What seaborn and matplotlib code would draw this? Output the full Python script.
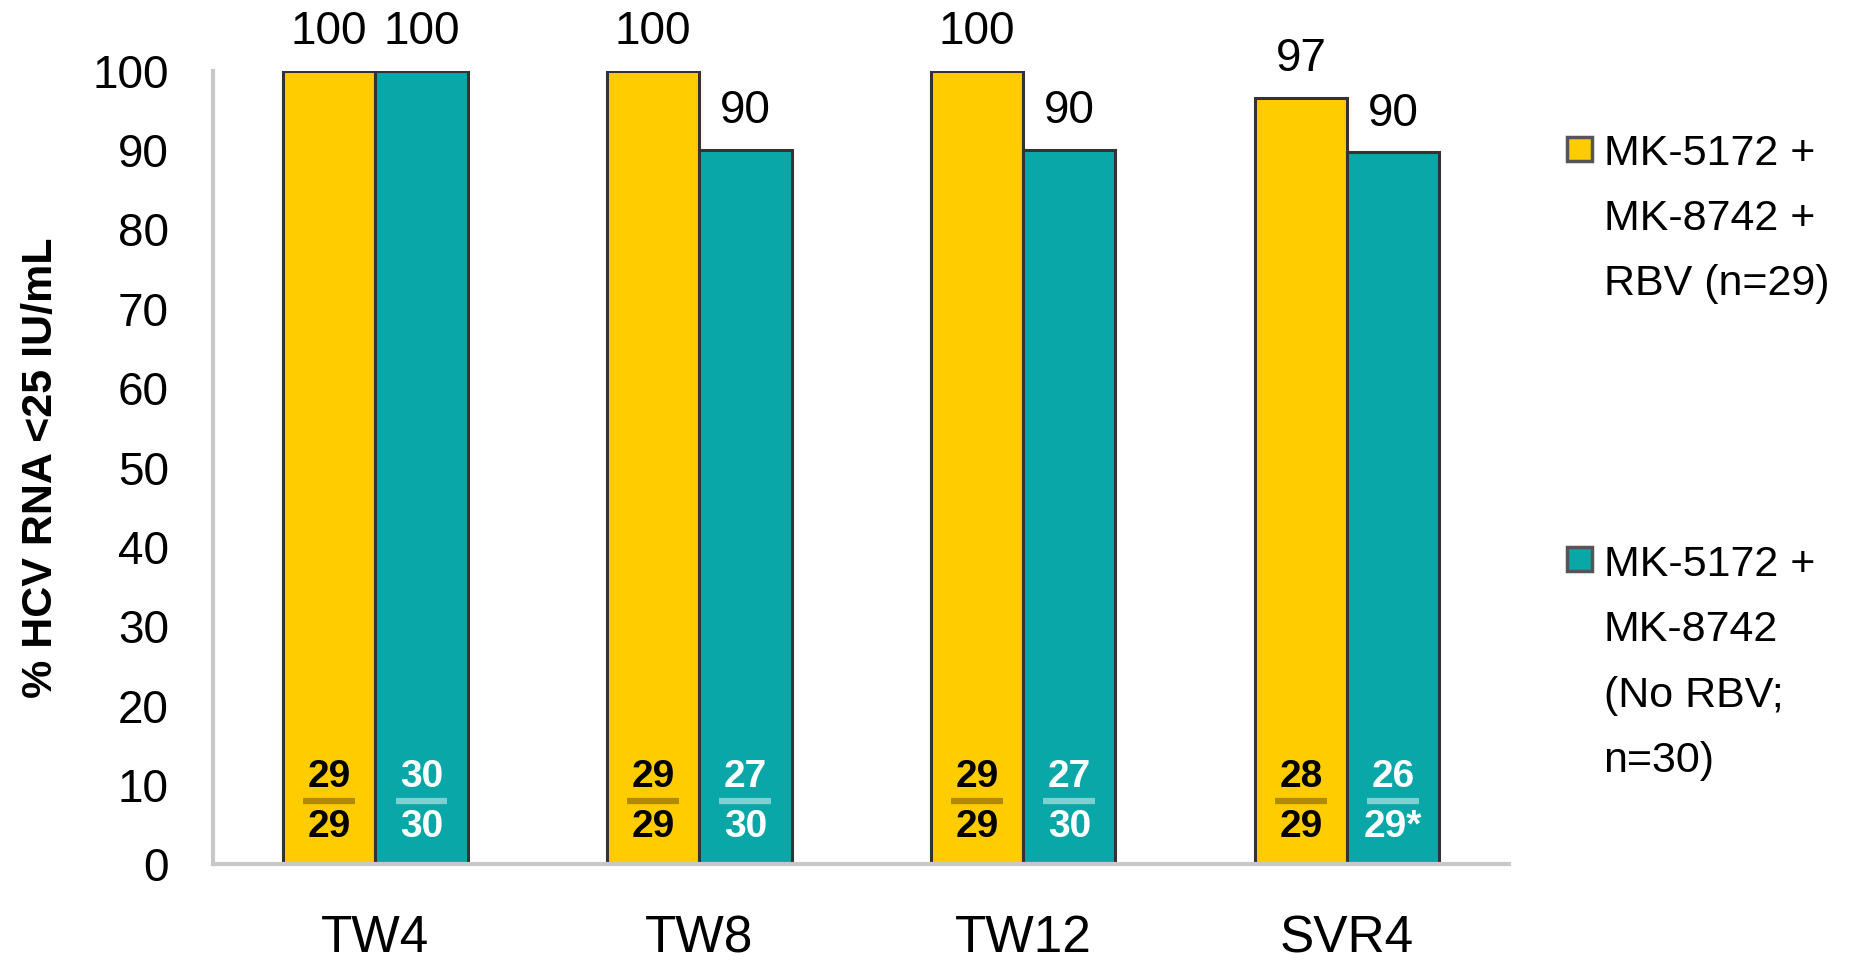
import numpy as np
import pandas as pd
import matplotlib
matplotlib.use('Agg')
import matplotlib.pyplot as plt
from matplotlib.patches import Rectangle
import seaborn as sns

# data
weeks = ['TW4', 'TW8', 'TW12', 'SVR4']
groups = ['MK-5172 +\nMK-8742 +\nRBV (n=29)',
          'MK-5172 +\nMK-8742\n(No RBV;\nn=30)']
pct_rbv = [100, 100, 100, 96.6]
pct_norbv = [100, 90, 90, 89.7]
lbl_rbv = ['100', '100', '100', '97']
lbl_norbv = ['100', '90', '90', '90']
num_rbv = ['29', '29', '29', '28']
den_rbv = ['29', '29', '29', '29']
num_norbv = ['30', '27', '27', '26']
den_norbv = ['30', '30', '30', '29*']

yellow = '#FFCC00'
teal = '#0AA7A9'

df = pd.DataFrame({
    'week': weeks * 2,
    'group': [groups[0]] * 4 + [groups[1]] * 4,
    'pct': pct_rbv + pct_norbv,
})

sns.set_style('white')
plt.rcParams['font.family'] = ['Liberation Sans', 'DejaVu Sans']
plt.rcParams['text.color'] = 'black'
plt.rcParams['xtick.labelcolor'] = 'black'
plt.rcParams['ytick.labelcolor'] = 'black'
plt.rcParams['axes.labelcolor'] = 'black'

fig = plt.figure(figsize=(18.56, 9.68), dpi=100)
ax = fig.add_axes([0.115, 0.107, 0.698, 0.820])

sns.barplot(data=df, x='week', y='pct', hue='group', order=weeks, hue_order=groups,
            palette=[yellow, teal], saturation=1, width=0.57, edgecolor='#333333',
            linewidth=2.2, legend=False, ax=ax)

ax.set_ylim(0, 100)
ax.set_xlim(-0.5, 3.5)
ax.set_yticks(np.arange(0, 101, 10))
ax.tick_params(axis='y', labelsize=33, length=12, width=2.2, color='#c4c4c4',
               direction='out', pad=20)
ax.set_xticks(np.arange(-0.5, 4, 1), minor=True)
ax.tick_params(axis='x', which='major', length=0, labelsize=37, pad=36)
ax.tick_params(axis='x', which='minor', length=12, width=2.2, color='#c4c4c4')
ax.set_xlabel('')
ax.set_ylabel('% HCV RNA <25 IU/mL', fontsize=31, fontweight='bold')
ax.yaxis.set_label_coords(-0.118, 0.5)
for s in ['top', 'right']:
    ax.spines[s].set_visible(False)
for s in ['left', 'bottom']:
    ax.spines[s].set_color('#c8c8c8')
    ax.spines[s].set_linewidth(3)

# value labels above bars
ax.bar_label(ax.containers[0], labels=lbl_rbv, fontsize=33, padding=12)
ax.bar_label(ax.containers[1], labels=lbl_norbv, fontsize=33, padding=12)

# n/N fractions inside the bars
fracs = [(num_rbv, den_rbv, 'black', '#B08A00'),
         (num_norbv, den_norbv, 'white', '#7DD0D0')]
for cont, (nums, dens, tc, lc) in zip(ax.containers, fracs):
    for bar, n, d in zip(cont, nums, dens):
        cx = bar.get_x() + bar.get_width() / 2
        ax.text(cx, 11.0, n, ha='center', va='center', fontsize=28,
                fontweight='bold', color=tc)
        ax.text(cx, 4.7, d, ha='center', va='center', fontsize=28,
                fontweight='bold', color=tc)
        ax.plot([cx - 0.08, cx + 0.08], [8.0, 8.0], color=lc, lw=4.5,
                solid_capstyle='butt')

# legend on the right
colors = [yellow, teal]
box_y = [0.846, 0.4225]
txt_y = [0.862, 0.437]
for c, by, ty, g in zip(colors, box_y, txt_y, groups):
    fig.add_artist(Rectangle((0.851 - 0.0065, by - 0.0124), 0.013, 0.0248,
                             facecolor=c, edgecolor='#555555', linewidth=2.5,
                             transform=fig.transFigure))
    fig.text(0.864, ty, g, ha='left', va='top', fontsize=31, linespacing=1.82)

fig.savefig('out.png', dpi=100)
